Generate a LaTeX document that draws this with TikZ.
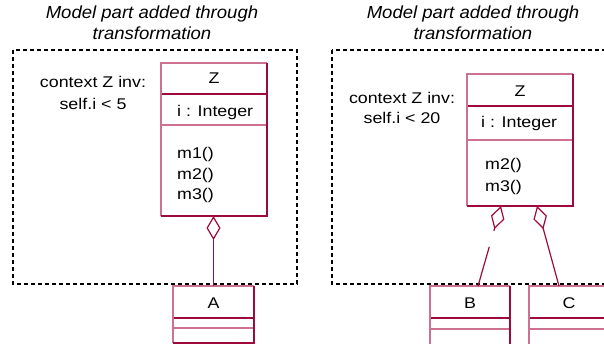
\documentclass[tikz,border=0pt]{standalone}
\usepackage{fontspec}
\setmainfont{Liberation Sans}
\newfontfamily\bodyfont{Liberation Sans}[FakeStretch=1.15]
\newfontfamily\headfont{Liberation Sans}[FakeStretch=1.06]
\usetikzlibrary{arrows.meta,calc}
\definecolor{umldark}{RGB}{158,10,60}
\definecolor{umllight}{RGB}{206,112,146}
\newcommand\umlframe[1]{%
  \draw[umllight,line width=1.3pt] (#1.south west) -- (#1.north west) -- (#1.north east);
  \draw[umldark,line width=1.8pt] (#1.north east) -- (#1.south east) -- (#1.south west);}
\newcommand\umldivider[3]{%
  \draw[#3,line width=1.3pt] ($(#1.north west)+(0,#2)$) -- ($(#1.north east)+(0,#2)$);}
\begin{document}
\begin{tikzpicture}[x=1pt,y=-1pt,
  txt/.style={inner sep=0pt,anchor=base,font=\bodyfont\fontsize{15.5}{20}\selectfont},
  ltxt/.style={txt,anchor=base west},
  title/.style={txt,font=\headfont\fontsize{17.5}{20}\selectfont\itshape},
  classbox/.style={rectangle,anchor=north west,inner sep=0pt,outer sep=0pt,fill=white},
  region/.style={black,line width=1.4pt,dash pattern=on 4pt off 3pt},
  assoc/.style={umldark,line width=1.2pt},
  agg/.style={assoc,-{Diamond[open,length=24pt,width=14pt]}}]
\useasboundingbox (0,0) rectangle (604,344);
\clip (0,0) rectangle (604,344);

% ---------- left: invariant self.i < 5 ----------
\node[title] (t1a) at (152,19) {Model part added through};
\node[title] (t1b) at (152,40) {transformation};
\draw[region] (13,50) rectangle (297,284);
\node[txt] (c1a) at (93,88) {context Z inv:};
\node[txt] (c1b) at (93,110) {self.i < 5};

\node[classbox,minimum width=106pt,minimum height=153pt] (Z1) at (161,63) {};
\umldivider{Z1}{31}{umldark}
\umldivider{Z1}{62}{umllight}
\umlframe{Z1}
\node[txt] (z1n) at ($(Z1.north)+(0,21)$) {Z};
\node[ltxt] (z1i) at ($(Z1.north west)+(16,54)$) {i : Integer};
\node[ltxt] (z1m1) at ($(Z1.north west)+(16,96)$) {m1()};
\node[ltxt] (z1m2) at ($(Z1.north west)+(16,116.5)$) {m2()};
\node[ltxt] (z1m3) at ($(Z1.north west)+(16,137)$) {m3()};

\node[classbox,minimum width=81pt,minimum height=57pt] (A) at (173,286) {};
\umldivider{A}{32}{umldark}
\umldivider{A}{42}{umllight}
\umlframe{A}
\node[txt] (an) at ($(A.north)+(0,22)$) {A};

\draw[agg] (A.north) -- (A.north |- Z1.south);

% ---------- right: invariant self.i < 20 ----------
\node[title] (t2a) at (473,19) {Model part added through};
\node[title] (t2b) at (473,40) {transformation};
\draw[region] (332,50) rectangle (620,284);
\node[txt] (c2a) at (402,104) {context Z inv:};
\node[txt] (c2b) at (402,124) {self.i < 20};

\node[classbox,minimum width=106pt,minimum height=132pt] (Z2) at (467,74) {};
\umldivider{Z2}{32}{umldark}
\umldivider{Z2}{66}{umllight}
\umlframe{Z2}
\node[txt] (z2n) at ($(Z2.north)+(0,23)$) {Z};
\node[ltxt] (z2i) at ($(Z2.north west)+(14,54)$) {i : Integer};
\node[ltxt] (z2m2) at ($(Z2.north west)+(18,96)$) {m2()};
\node[ltxt] (z2m3) at ($(Z2.north west)+(18,118)$) {m3()};

\node[classbox,minimum width=80pt,minimum height=64pt] (B) at (430,286) {};
\umldivider{B}{32}{umldark}
\umldivider{B}{43}{umllight}
\umlframe{B}
\node[txt] (bn) at ($(B.north)+(0,22)$) {B};

\node[classbox,minimum width=80pt,minimum height=64pt] (C) at (529,286) {};
\umldivider{C}{32}{umldark}
\umldivider{C}{43}{umllight}
\umlframe{C}
\node[txt] (cn) at ($(C.north)+(0,22)$) {C};

\coordinate (bfoot) at ($(B.north west)+(48,0)$);
\coordinate (btip) at ($(Z2.south west)+(34,0)$);
\draw[assoc] (bfoot) -- ($(bfoot)!0.49!(btip)$);
\draw[agg] ($(bfoot)!0.69!(btip)$) -- (btip);

\coordinate (cfoot) at ($(C.north west)+(30,0)$);
\coordinate (ctip) at ($(Z2.south west)+(70,0)$);
\draw[agg] (cfoot) -- (ctip);
\end{tikzpicture}
\end{document}
